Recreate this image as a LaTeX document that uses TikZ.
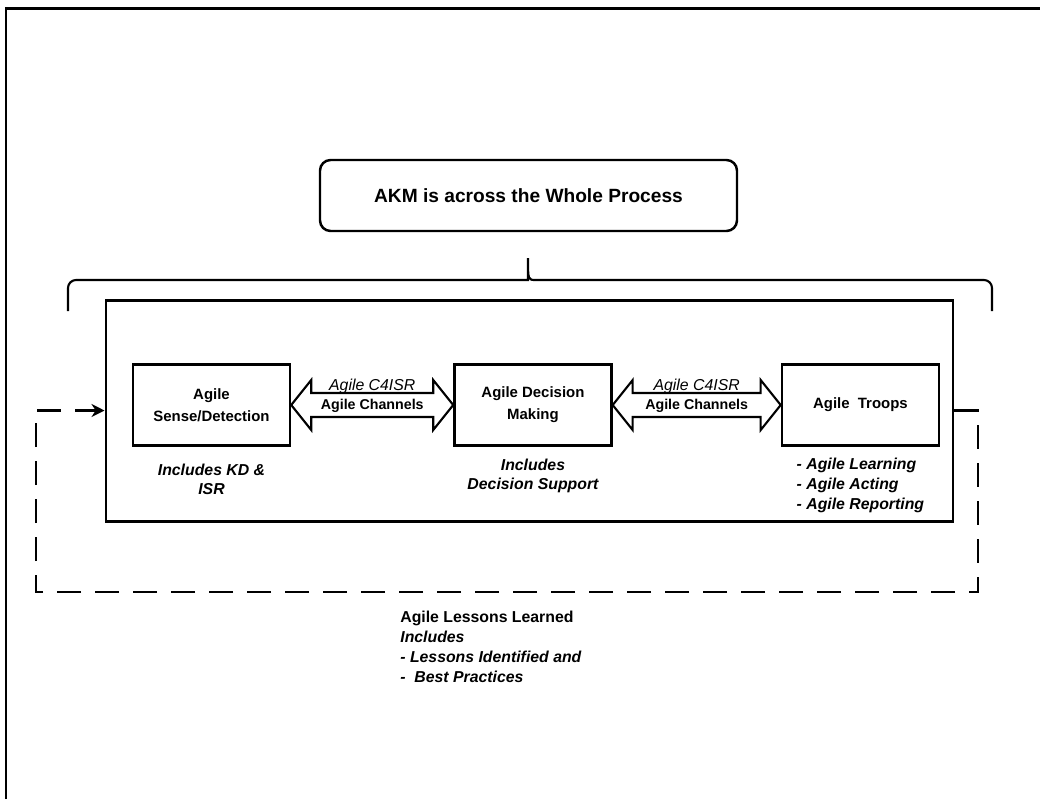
\documentclass[tikz,border=0pt]{standalone}
\usepackage{fontspec}
\setmainfont{Liberation Sans}
\usepackage{tikz}
\usetikzlibrary{arrows.meta,positioning,calc}
\tikzset{
  stagebox/.style={
    rectangle,
    draw=black,
    line width=1.4pt,
    minimum width=3.14cm,
    minimum height=1.62cm,
    align=center,
    font=\fontsize{8.5}{12.5}\selectfont\bfseries,
    fill=white
  },
  akmbox/.style={
    rectangle,
    rounded corners=6pt,
    draw=black,
    line width=1.4pt,
    minimum width=8.34cm,
    minimum height=1.42cm,
    align=center,
    font=\fontsize{10.9}{13}\selectfont\bfseries
  },
  processbox/.style={
    rectangle,
    draw=black,
    line width=1.7pt,
    minimum width=16.94cm,
    minimum height=4.42cm
  },
  channel/.style={draw=black, line width=1.2pt, line join=miter, fill=white},
  chantop/.style={font=\fontsize{9}{10}\selectfont\itshape, inner sep=0pt},
  chanmid/.style={font=\fontsize{8.1}{10}\selectfont\bfseries, inner sep=0pt},
  captiontext/.style={align=center, inner sep=1pt, font=\fontsize{9}{10.8}\selectfont\bfseries\itshape},
  listtext/.style={align=left, inner sep=1pt, font=\fontsize{9}{11.4}\selectfont\bfseries\itshape},
  lessontext/.style={align=left, inner sep=0pt, font=\fontsize{9}{11.4}\selectfont\bfseries\itshape},
  lessonloop/.style={line width=1.4pt, dash pattern=on 0.48cm off 0.28cm, -{Stealth[length=0.26cm,width=0.26cm]}},
  bracket/.style={line width=1.2pt},
  frameline/.style={line width=1.7pt}
}

\begin{document}
\begin{tikzpicture}[node distance=3.3cm]
\useasboundingbox (0,0) rectangle (20.8,-15.98);
\draw[frameline] (0.12,-15.98) -- (0.12,-0.16) -- (20.8,-0.16);
\node[akmbox] (akm) at (10.57,-3.91) {AKM is across the Whole Process};
\draw[bracket] (1.36,-6.22) [rounded corners=0.16cm] -- (1.36,-5.6) -- (10.4,-5.6) [sharp corners]
  .. controls (10.56,-5.6) .. (10.56,-5.16) .. controls (10.56,-5.6) .. (10.72,-5.6)
  [rounded corners=0.16cm] -- (19.84,-5.6) -- (19.84,-6.22);
\node[processbox] (process) at (10.59,-8.21) {};
\node[stagebox] (sense) at (4.23,-8.1) {Agile\\Sense/Detection};
\node[stagebox, right=3.24cm of sense] (decision) {Agile Decision\\Making};
\node[stagebox, right=3.36cm of decision] (troops) {Agile\ \ Troops};
\draw[channel] let \p1=(sense.east), \p2=(decision.west) in
  (\x1,\y1) -- (\x1+0.4cm,\y1+0.5cm) -- (\x1+0.4cm,\y1+0.24cm) -- (\x2-0.4cm,\y1+0.24cm)
  -- (\x2-0.4cm,\y1+0.5cm) -- (\x2,\y1) -- (\x2-0.4cm,\y1-0.5cm) -- (\x2-0.4cm,\y1-0.24cm)
  -- (\x1+0.4cm,\y1-0.24cm) -- (\x1+0.4cm,\y1-0.5cm) -- cycle;
\draw[channel] let \p1=(decision.east), \p2=(troops.west) in
  (\x1,\y1) -- (\x1+0.4cm,\y1+0.5cm) -- (\x1+0.4cm,\y1+0.24cm) -- (\x2-0.4cm,\y1+0.24cm)
  -- (\x2-0.4cm,\y1+0.5cm) -- (\x2,\y1) -- (\x2-0.4cm,\y1-0.5cm) -- (\x2-0.4cm,\y1-0.24cm)
  -- (\x1+0.4cm,\y1-0.24cm) -- (\x1+0.4cm,\y1-0.5cm) -- cycle;
\coordinate (link1) at ($(sense.east)!0.5!(decision.west)$);
\coordinate (link2) at ($(decision.east)!0.5!(troops.west)$);
\node[chanmid] at ($(link1)+(0,-0.01)$) {Agile Channels};
\node[chanmid] at ($(link2)+(0,-0.01)$) {Agile Channels};
\node[chantop, anchor=base] at ($(link1)+(0,0.3)$) {Agile C4ISR};
\node[chantop, anchor=base] at ($(link2)+(0,0.3)$) {Agile C4ISR};
\node[captiontext, below=0.3cm of sense] (sensenote) {Includes KD \&\\ISR};
\node[captiontext, below=0.2cm of decision] (decisionnote) {Includes\\Decision Support};
\node[listtext, below=0.19cm of troops] (troopsnote) {- Agile Learning\\- Agile Acting\\- Agile Reporting};
\coordinate (loopR) at (19.56,-11.84);
\coordinate (loopL) at (0.72,-11.84);
\draw[lessonloop] (process.east) -| (loopR) -- (loopL) |- (process.west);
\node[lessontext, anchor=north west] (lessons) at (8.0,-12.22) {{\upshape Agile Lessons Learned}\\Includes\\- Lessons Identified and\\-\ \ Best Practices};
\end{tikzpicture}
\end{document}
